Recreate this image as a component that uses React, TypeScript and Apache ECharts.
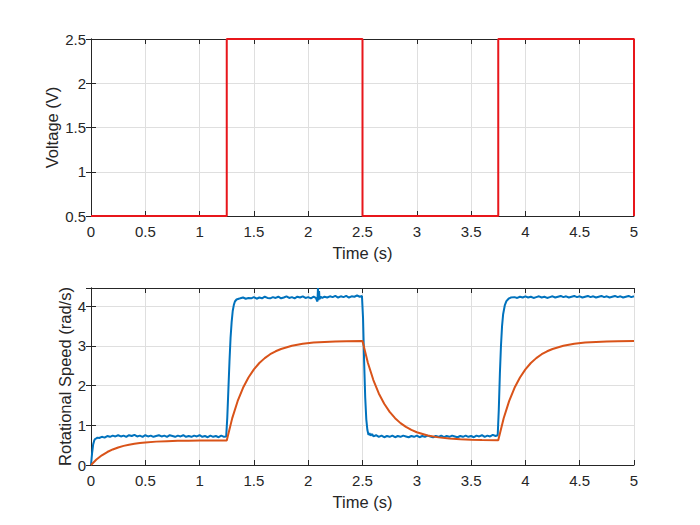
import React, { useEffect, useRef } from "react";
import * as echarts from "echarts";

const xTicks = [0, 0.5, 1, 1.5, 2, 2.5, 3, 3.5, 4, 4.5, 5];

const voltageT = [0, 1.25, 2.5, 3.75, 5];
const voltageV = [0.5, 2.5, 0.5, 2.5, 0.5];

const measured: number[][] = [
  [0, 0], [0.01, 0.3], [0.02, 0.52], [0.03, 0.62], [0.04, 0.66], [0.05, 0.67], [0.06, 0.69], [0.075, 0.68],
  [0.1, 0.71], [0.125, 0.69], [0.15, 0.73], [0.175, 0.71], [0.2, 0.74], [0.225, 0.72], [0.25, 0.75], [0.275, 0.72],
  [0.3, 0.74], [0.325, 0.71], [0.35, 0.75], [0.375, 0.73], [0.4, 0.76], [0.425, 0.72], [0.45, 0.74], [0.475, 0.71],
  [0.5, 0.75], [0.525, 0.72], [0.55, 0.74], [0.575, 0.71], [0.6, 0.73], [0.625, 0.75], [0.65, 0.72], [0.675, 0.74],
  [0.7, 0.71], [0.725, 0.75], [0.75, 0.73], [0.775, 0.71], [0.8, 0.74], [0.825, 0.72], [0.85, 0.75], [0.875, 0.71],
  [0.9, 0.73], [0.925, 0.71], [0.95, 0.74], [0.975, 0.72], [1.0, 0.75], [1.025, 0.71], [1.05, 0.73], [1.075, 0.7],
  [1.1, 0.74], [1.125, 0.71], [1.15, 0.73], [1.175, 0.7], [1.2, 0.74], [1.225, 0.71], [1.245, 0.72],
  [1.255, 1.2], [1.265, 1.9], [1.275, 2.6], [1.285, 3.2], [1.295, 3.6], [1.305, 3.88], [1.315, 4.03], [1.325, 4.12],
  [1.34, 4.17], [1.36, 4.19],
  [1.375, 4.2], [1.4, 4.22], [1.425, 4.19], [1.45, 4.21], [1.475, 4.2], [1.5, 4.23], [1.525, 4.19], [1.55, 4.22],
  [1.575, 4.2], [1.6, 4.24], [1.625, 4.21], [1.65, 4.2], [1.675, 4.23], [1.7, 4.21], [1.725, 4.24], [1.75, 4.2],
  [1.775, 4.22], [1.8, 4.25], [1.825, 4.21], [1.85, 4.23], [1.875, 4.2], [1.9, 4.24], [1.925, 4.22], [1.95, 4.25],
  [1.975, 4.21], [2.0, 4.23], [2.025, 4.2], [2.05, 4.24], [2.07, 4.21], [2.085, 4.12], [2.09, 4.46], [2.095, 4.15],
  [2.1, 4.38], [2.105, 4.18], [2.115, 4.24], [2.13, 4.21], [2.15, 4.24], [2.175, 4.22], [2.2, 4.25], [2.225, 4.23],
  [2.25, 4.26], [2.275, 4.22], [2.3, 4.25], [2.325, 4.23], [2.35, 4.26], [2.375, 4.22], [2.4, 4.25], [2.425, 4.24],
  [2.45, 4.27], [2.475, 4.24], [2.495, 4.26],
  [2.505, 3.7], [2.515, 2.6], [2.525, 1.7], [2.535, 1.15], [2.545, 0.88], [2.555, 0.76], [2.565, 0.8], [2.575, 0.74],
  [2.59, 0.78],
  [2.6, 0.72], [2.625, 0.75], [2.65, 0.71], [2.675, 0.74], [2.7, 0.7], [2.725, 0.73], [2.75, 0.71], [2.775, 0.74],
  [2.8, 0.7], [2.825, 0.73], [2.85, 0.71], [2.875, 0.74], [2.9, 0.72], [2.925, 0.7], [2.95, 0.73], [2.975, 0.71],
  [3.0, 0.74], [3.025, 0.7], [3.05, 0.73], [3.075, 0.71], [3.1, 0.74], [3.125, 0.72], [3.15, 0.7], [3.175, 0.73],
  [3.2, 0.71], [3.225, 0.74], [3.25, 0.7], [3.275, 0.73], [3.3, 0.71], [3.325, 0.74], [3.35, 0.72], [3.375, 0.7],
  [3.4, 0.73], [3.425, 0.71], [3.45, 0.74], [3.475, 0.71], [3.5, 0.73], [3.525, 0.7], [3.55, 0.74], [3.575, 0.72],
  [3.6, 0.75], [3.625, 0.71], [3.65, 0.74], [3.675, 0.72], [3.7, 0.76], [3.725, 0.73], [3.745, 0.75],
  [3.755, 1.4], [3.765, 2.3], [3.775, 3.0], [3.785, 3.5], [3.795, 3.8], [3.81, 4.02], [3.825, 4.13], [3.845, 4.19],
  [3.865, 4.22],
  [3.9, 4.23], [3.925, 4.21], [3.95, 4.24], [3.975, 4.22], [4.0, 4.25], [4.025, 4.22], [4.05, 4.24], [4.075, 4.21],
  [4.1, 4.23], [4.125, 4.25], [4.15, 4.22], [4.175, 4.24], [4.2, 4.21], [4.225, 4.23], [4.25, 4.25], [4.275, 4.22],
  [4.3, 4.24], [4.325, 4.26], [4.35, 4.23], [4.375, 4.25], [4.4, 4.22], [4.425, 4.24], [4.45, 4.26], [4.475, 4.23],
  [4.5, 4.25], [4.525, 4.22], [4.55, 4.24], [4.575, 4.26], [4.6, 4.23], [4.625, 4.25], [4.65, 4.22], [4.675, 4.24],
  [4.7, 4.26], [4.725, 4.23], [4.75, 4.25], [4.775, 4.22], [4.8, 4.24], [4.825, 4.26], [4.85, 4.23], [4.875, 4.25],
  [4.9, 4.22], [4.925, 4.24], [4.95, 4.26], [4.975, 4.23], [5.0, 4.25],
];

const model: number[][] = [
  [0, 0], [0.05, 0.137], [0.1, 0.244], [0.15, 0.327], [0.2, 0.392], [0.25, 0.442], [0.3, 0.482], [0.35, 0.512],
  [0.4, 0.536], [0.45, 0.555], [0.5, 0.569], [0.6, 0.589], [0.7, 0.601], [0.8, 0.609], [0.9, 0.613], [1.0, 0.616],
  [1.1, 0.618], [1.25, 0.619],
  [1.3, 1.175], [1.35, 1.607], [1.4, 1.945], [1.45, 2.206], [1.5, 2.41], [1.55, 2.57], [1.6, 2.693], [1.65, 2.791],
  [1.7, 2.866], [1.75, 2.924], [1.85, 3.005], [1.95, 3.055], [2.05, 3.085], [2.15, 3.102], [2.25, 3.112],
  [2.35, 3.12], [2.5, 3.125],
  [2.55, 2.571], [2.6, 2.14], [2.65, 1.803], [2.7, 1.542], [2.75, 1.338], [2.8, 1.179], [2.85, 1.055], [2.9, 0.959],
  [2.95, 0.884], [3.0, 0.826], [3.1, 0.745], [3.2, 0.696], [3.3, 0.666], [3.4, 0.648], [3.5, 0.637], [3.6, 0.63],
  [3.75, 0.625],
  [3.8, 1.178], [3.85, 1.609], [3.9, 1.946], [3.95, 2.206], [4.0, 2.41], [4.05, 2.57], [4.1, 2.693], [4.15, 2.791],
  [4.2, 2.866], [4.25, 2.924], [4.35, 3.005], [4.45, 3.055], [4.55, 3.085], [4.65, 3.102], [4.75, 3.112],
  [4.85, 3.12], [5.0, 3.125],
];

const TXT = "#262626";
const FONT = "Arial";
const TICK_FS = 15;
const NAME_FS = 16.5;
const GRID = "#dfdfdf";

function xAxisMain(gridIndex: number) {
  return {
    type: "value" as const,
    gridIndex,
    min: 0,
    max: 5,
    interval: 0.5,
    name: "Time (s)",
    nameLocation: "middle" as const,
    nameGap: 28,
    nameMoveOverlap: false,
    nameTextStyle: { color: TXT, fontSize: NAME_FS, fontFamily: FONT },
    axisLine: { show: true, onZero: false, lineStyle: { color: TXT, width: 1 } },
    axisTick: { show: true, inside: true, length: 5, lineStyle: { color: TXT } },
    axisLabel: { color: TXT, fontSize: TICK_FS, fontFamily: FONT, margin: 8,
      formatter: (v: number) => (xTicks.includes(v) ? String(v) : "") },
    splitLine: { show: true, lineStyle: { color: GRID, width: 1 } },
  };
}

function xAxisTop(gridIndex: number) {
  return {
    type: "value" as const,
    gridIndex,
    position: "top" as const,
    min: 0,
    max: 5,
    interval: 0.5,
    axisLine: { show: true, onZero: false, lineStyle: { color: TXT, width: 1 } },
    axisTick: { show: true, inside: true, length: 5, lineStyle: { color: TXT } },
    axisLabel: { show: false },
    splitLine: { show: false },
  };
}

export default function App() {
  const ref = useRef<HTMLDivElement>(null);
  useEffect(() => {
    if (!ref.current) return;
    const chart = echarts.init(ref.current, undefined, { renderer: "svg" });
    const voltage = voltageT.map((t, i) => [t, voltageV[i]]);
    chart.setOption({
      animation: false,
      backgroundColor: "#ffffff",
      grid: [
        { left: 83, width: 543, top: 31, height: 177 },
        { left: 83, width: 543, top: 280, height: 177 },
      ],
      xAxis: [xAxisMain(0), xAxisTop(0), xAxisMain(1), xAxisTop(1)],
      yAxis: [
        {
          type: "value", gridIndex: 0, min: 0.5, max: 2.5, interval: 0.5,
          name: "Voltage (V)", nameLocation: "middle", nameGap: 31, nameMoveOverlap: false,
          nameTextStyle: { color: TXT, fontSize: NAME_FS, fontFamily: FONT },
          axisLine: { show: true, lineStyle: { color: TXT } },
          axisTick: { show: true, inside: true, length: 5, lineStyle: { color: TXT } },
          axisLabel: { color: TXT, fontSize: TICK_FS, fontFamily: FONT, margin: 5 },
          splitLine: { show: true, lineStyle: { color: GRID } },
        },
        {
          type: "value", gridIndex: 0, position: "right", min: 0.5, max: 2.5, interval: 0.5,
          axisLine: { show: true, lineStyle: { color: TXT } },
          axisTick: { show: true, inside: true, length: 5, lineStyle: { color: TXT } },
          axisLabel: { show: false }, splitLine: { show: false },
        },
        {
          type: "value", gridIndex: 1, min: 0, max: 4.46, interval: 1,
          name: "Rotational Speed (rad/s)", nameLocation: "middle", nameGap: 18, nameMoveOverlap: false,
          nameTextStyle: { color: TXT, fontSize: NAME_FS, fontFamily: FONT },
          axisLine: { show: true, lineStyle: { color: TXT } },
          axisTick: { show: true, inside: true, length: 5, lineStyle: { color: TXT } },
          axisLabel: { color: TXT, fontSize: TICK_FS, fontFamily: FONT, margin: 5, showMaxLabel: false,
            formatter: (v: number) => (Number.isInteger(v) ? String(v) : "") },
          splitLine: { show: true, lineStyle: { color: GRID } },
        },
        {
          type: "value", gridIndex: 1, position: "right", min: 0, max: 4.46, interval: 1,
          axisLine: { show: true, lineStyle: { color: TXT } },
          axisTick: { show: true, inside: true, length: 5, lineStyle: { color: TXT } },
          axisLabel: { show: false }, splitLine: { show: false },
        },
      ],
      series: [
        {
          type: "line", xAxisIndex: 0, yAxisIndex: 0, data: voltage, step: "end",
          showSymbol: false, clip: false, lineStyle: { color: "#e8161b", width: 2 },
        },
        {
          type: "line", xAxisIndex: 2, yAxisIndex: 2, data: measured,
          showSymbol: false, clip: false, lineStyle: { color: "#0072BD", width: 2 },
        },
        {
          type: "line", xAxisIndex: 2, yAxisIndex: 2, data: model,
          showSymbol: false, clip: false, lineStyle: { color: "#D95319", width: 2 },
        },
      ],
    });
    return () => chart.dispose();
  }, []);
  return <div ref={ref} style={{ width: 692, height: 517 }} />;
}
